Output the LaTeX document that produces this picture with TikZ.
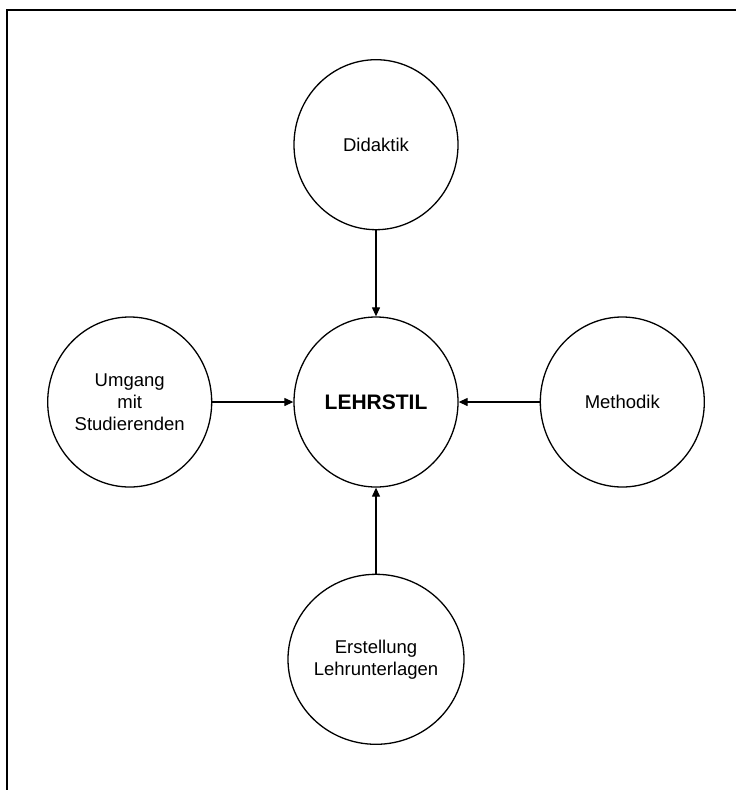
\documentclass[tikz,border=0pt]{standalone}
\usepackage{fontspec}
\setmainfont{Liberation Sans}
\usetikzlibrary{positioning,shapes.geometric,arrows.meta}
\begin{document}
\begin{tikzpicture}[x=1pt, y=-1pt, font=\fontsize{18.5}{22}\selectfont,
        main/.style = {draw, ellipse, line width=1.3pt, minimum width=164pt, minimum height=170pt, inner sep=0pt, align=center},
        link/.style = {-{Triangle[length=9pt,width=8pt]}, line width=1.2pt}]
        \useasboundingbox (0,0) rectangle (736,790);
        \draw[line width=1.5pt] (7,790) -- (7,10) -- (736,10);

        \node[main] (L) at (376,402) {\fontsize{21}{24}\selectfont\textbf{LEHRSTIL}};
        \node[main] (D) [above=86pt of L] {Didaktik};
        \node[main] (U) [left=81pt of L] {Umgang\\mit\\Studierenden};
        \node[main] (M) [right=81pt of L] {Methodik};
        \node[main] (E) [below=86pt of L] {Erstellung\\Lehrunterlagen};

        \draw[link] (D) -- (L);
        \draw[link] (U) -- (L);
        \draw[link] (M) -- (L);
        \draw[link] (E) -- (L);
    \end{tikzpicture}
\end{document}
